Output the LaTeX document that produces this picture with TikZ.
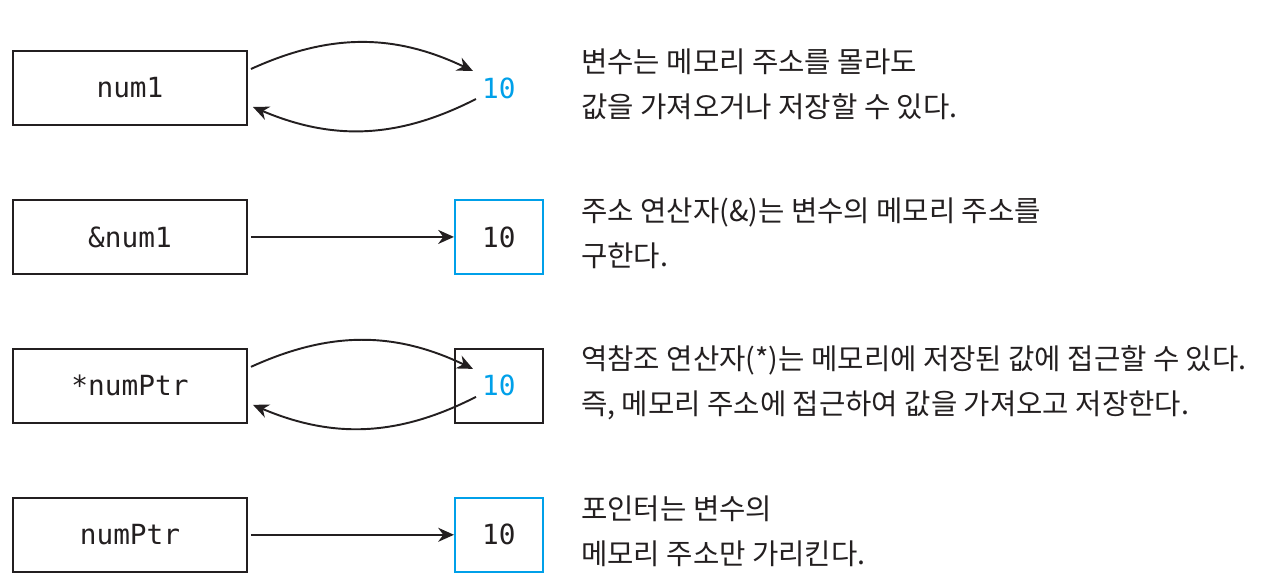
\documentclass[tikz,border=0pt]{standalone}
\usepackage{fontspec}
\setmonofont{DejaVu Sans Mono}
\newfontfamily\krfont{Noto Sans CJK KR}
\usepackage{tikz}
\usetikzlibrary{positioning, arrows.meta}
\definecolor{ptrblue}{RGB}{0,160,233}
\definecolor{inkblack}{RGB}{35,31,32}

\begin{document}
\begin{tikzpicture}
    % Define styles
    \tikzstyle{varbox} = [rectangle, draw=inkblack, line width=1.1pt, minimum width=4.68cm, minimum height=1.48cm, font=\ttfamily\fontsize{15.8pt}{18pt}\selectfont, text=inkblack]
    \tikzstyle{valbox} = [rectangle, draw=ptrblue, line width=1.1pt, minimum width=1.76cm, minimum height=1.48cm, font=\ttfamily\fontsize{15.8pt}{18pt}\selectfont, text=inkblack]
    \tikzstyle{note} = [anchor=west, align=left, inner sep=0pt, font=\krfont\fontsize{16.3pt}{25.5pt}\selectfont, text=inkblack]
    \tikzstyle{arrow} = [line width=1.1pt, draw=inkblack, -{Stealth[length=9pt, width=8pt]}]

    \useasboundingbox (0,0) rectangle (25.6,-11.64);

    % Nodes
    \node (num1) [varbox] at (2.6,-1.76) {num1};
    \node (addr) [varbox, below=1.46cm of num1] {\&num1};
    \node (deref) [varbox, below=1.46cm of addr] {*numPtr};
    \node (ptr) [varbox, below=1.46cm of deref] {numPtr};

    \node (val1) [valbox, draw=none, text=ptrblue, right=4.12cm of num1] {10};
    \node (val2) [valbox, right=4.12cm of addr] {10};
    \node (val3) [valbox, draw=inkblack, text=ptrblue, right=4.12cm of deref] {10};
    \node (val4) [valbox, right=4.12cm of ptr] {10};

    \node (note1) [note, right=0.74cm of val1, yshift=0.07cm] {변수는 메모리 주소를 몰라도\\값을 가져오거나 저장할 수 있다.};
    \node (note2) [note, right=0.74cm of val2, yshift=0.07cm] {주소 연산자(\&)는 변수의 메모리 주소를\\구한다.};
    \node (note3) [note, right=0.74cm of val3, yshift=0.07cm] {역참조 연산자(*)는 메모리에 저장된 값에 접근할 수 있다.\\즉, 메모리 주소에 접근하여 값을 가져오고 저장한다.};
    \node (note4) [note, right=0.74cm of val4, yshift=0.07cm] {포인터는 변수의\\메모리 주소만 가리킨다.};

    % Arrows
    \draw [arrow] ([xshift=0.06cm, yshift=0.38cm]num1.east) to[bend left=25] ([xshift=0.38cm, yshift=0.34cm]val1.west);
    \draw [arrow] ([xshift=0.44cm, yshift=-0.22cm]val1.west) to[bend left=25] ([xshift=0.1cm, yshift=-0.38cm]num1.east);
    \draw [arrow] ([xshift=0.06cm]addr.east) -- (val2.west);
    \draw [arrow] ([xshift=0.06cm, yshift=0.38cm]deref.east) to[bend left=25] ([xshift=0.38cm, yshift=0.34cm]val3.west);
    \draw [arrow] ([xshift=0.44cm, yshift=-0.22cm]val3.west) to[bend left=25] ([xshift=0.1cm, yshift=-0.38cm]deref.east);
    \draw [arrow] ([xshift=0.06cm]ptr.east) -- (val4.west);
\end{tikzpicture}
\end{document}
